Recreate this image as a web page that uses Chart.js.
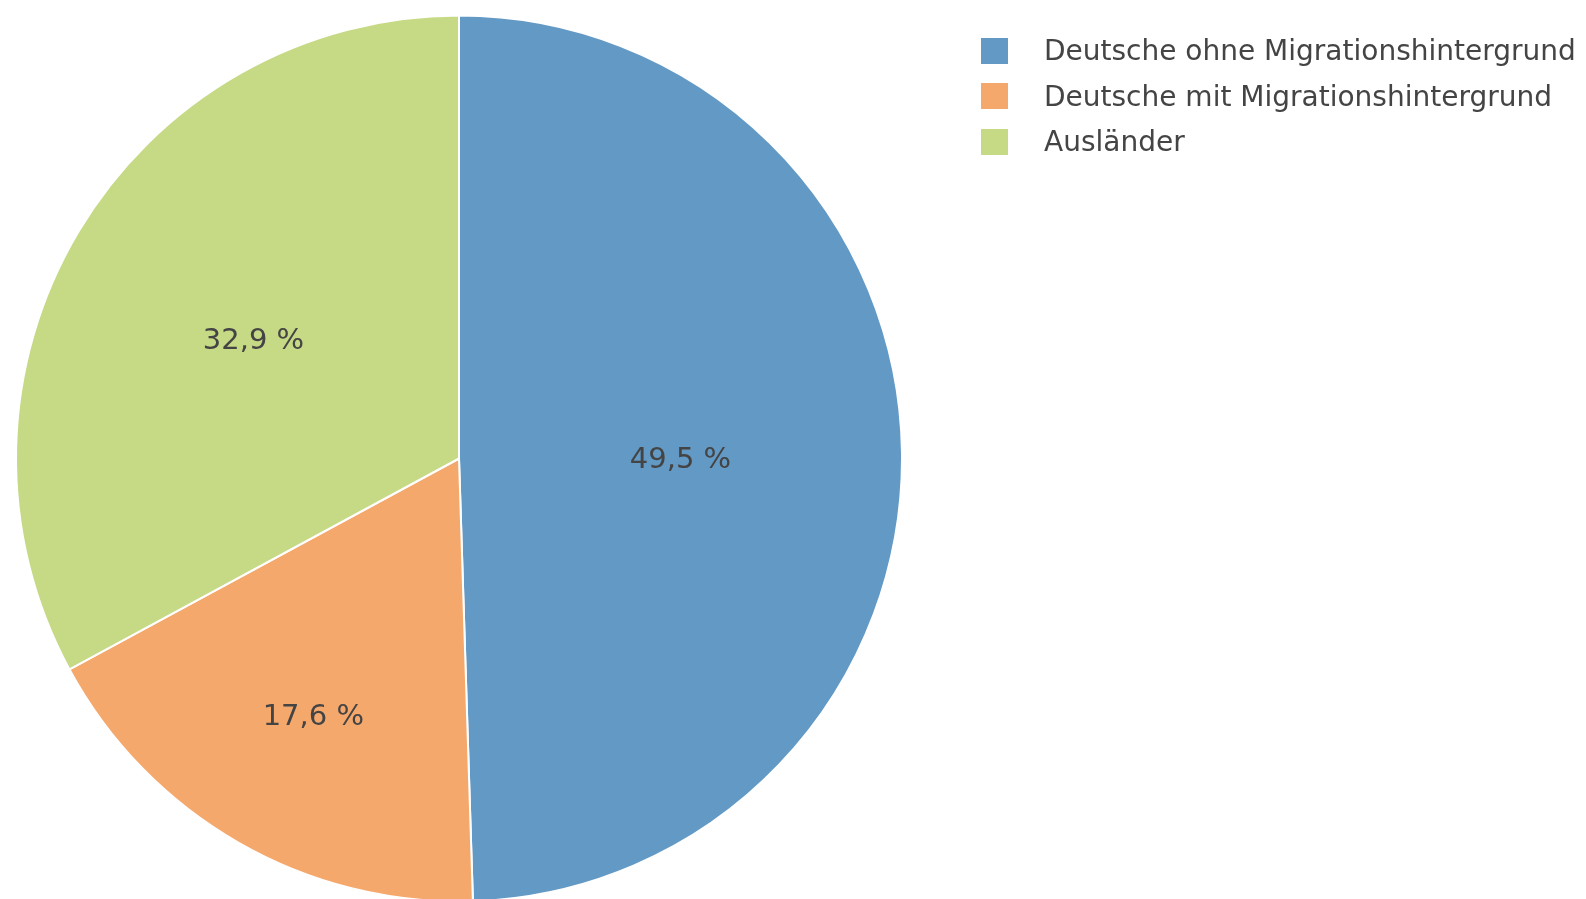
<!DOCTYPE html>
<html>
<head>
<meta charset="utf-8">
<script src="https://cdn.jsdelivr.net/npm/chart.js@4"></script>
<style>
    html, body { margin: 0; padding: 0; background: #ffffff; }
    #wrap { position: relative; width: 1586px; height: 899px; }
    #legend { position: absolute; left: 981px; top: 28px; font-family: "DejaVu Sans", Verdana, sans-serif; font-size: 28px; color: #444444; }
    .item { display: flex; align-items: center; height: 45.5px; white-space: nowrap; }
    .box { width: 27px; height: 26px; margin-right: 36px; }
</style>
</head>
<body>
<div id="wrap">
    <canvas id="myChart" width="1586" height="899"></canvas>
    <div id="legend"></div>
</div>
<script>
/* Anteil der Bevölkerung nach Migrationsstatus */

const categories = ['Deutsche ohne Migrationshintergrund', 'Deutsche mit Migrationshintergrund', 'Ausländer'];
const shares = [49.5, 17.6, 32.9];
const sliceColors = ['#6399c5', '#f5a86c', '#c6d985'];

// how far out (fraction of radius) each label sits
const labelRadius = [0.5, 0.66, 0.54];

// legend as html
const legendEl = document.getElementById('legend');
categories.forEach((name, i) => {
    const row = document.createElement('div');
    row.className = 'item';
    const box = document.createElement('div');
    box.className = 'box';
    box.style.background = sliceColors[i];
    const txt = document.createElement('span');
    txt.textContent = name;
    row.appendChild(box);
    row.appendChild(txt);
    legendEl.appendChild(row);
});

const sliceLabels = {
    id: 'sliceLabels',
    afterDatasetsDraw(chart) {
        const ctx = chart.ctx;
        const meta = chart.getDatasetMeta(0);
        ctx.save();
        ctx.font = '29px "DejaVu Sans", Verdana, sans-serif';
        ctx.fillStyle = '#444444';
        ctx.textAlign = 'center';
        ctx.textBaseline = 'middle';
        meta.data.forEach((arc, i) => {
            const mid = (arc.startAngle + arc.endAngle) / 2;
            const r = arc.outerRadius * labelRadius[i];
            const x = arc.x + Math.cos(mid) * r;
            const y = arc.y + Math.sin(mid) * r + 5;
            ctx.fillText(shares[i].toFixed(1).replace('.', ',') + ' %', x, y);
        });
        ctx.restore();
    }
};

new Chart(document.getElementById('myChart'), {
    type: 'pie',
    data: {
        labels: categories,
        datasets: [{
            data: shares,
            backgroundColor: sliceColors,
            borderColor: '#ffffff',
            borderWidth: 2,
            hoverOffset: 0,
            radius: 443
        }]
    },
    options: {
        responsive: false,
        animation: false,
        layout: {
            padding: { left: 12, right: 680, top: 18, bottom: 0 }
        },
        plugins: {
            legend: { display: false },
            tooltip: { enabled: false }
        }
    },
    plugins: [sliceLabels]
});
</script>
</body>
</html>
